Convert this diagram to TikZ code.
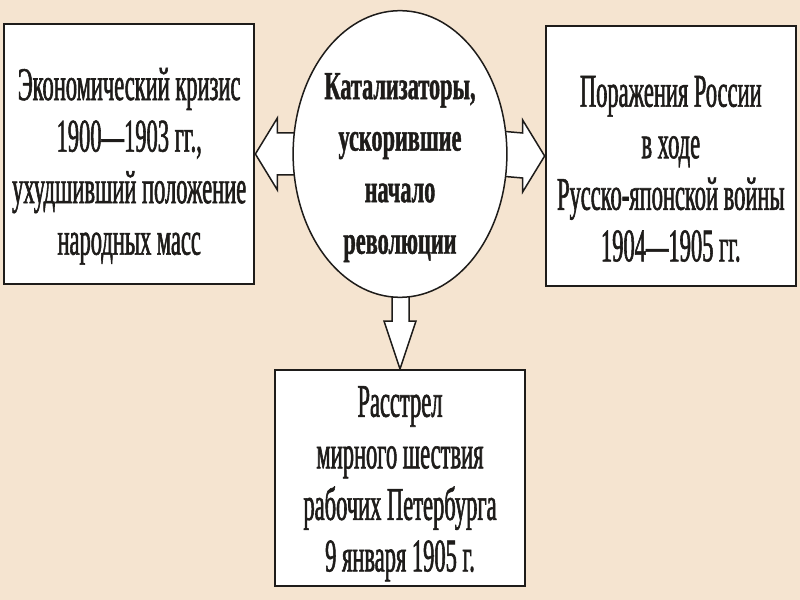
\documentclass[tikz,border=0pt]{standalone}
\usepackage{fontspec}
\setmainfont{Liberation Serif}
\newfontfamily\condserif[FakeStretch=0.48, FakeBold=1.2]{Liberation Serif}
\newfontfamily\condbold[FakeStretch=0.56, FakeBold=1]{Liberation Serif Bold}
\usepackage{tikz}
\usetikzlibrary{positioning, shapes.geometric, backgrounds, calc}
\definecolor{paperbeige}{RGB}{245, 228, 208}
\definecolor{inkdark}{RGB}{30, 28, 26}
\newcommand{\toplift}[1]{\rule{0pt}{#1}}

\begin{document}
\begin{tikzpicture}[x=0.3mm, y=-0.3mm,
  factbox/.style={rectangle, draw=inkdark, fill=white, line width=0.7mm,
    align=center, minimum width=75mm, inner sep=0pt, text=inkdark,
    font=\condserif\fontsize{40pt}{44pt}\selectfont},
  hub/.style={ellipse, draw=inkdark, fill=white, line width=0.45mm,
    align=center, minimum width=63mm, minimum height=86mm, inner xsep=0pt,
    inner ysep=-6mm, text=inkdark, font=\condbold\fontsize{34pt}{44pt}\selectfont},
  blockarrow/.style={draw=inkdark, fill=white, line width=0.45mm, line join=miter}
]
  \useasboundingbox (0,0) rectangle (800,600);
  \node[hub] (cat) at (400,154) {\toplift{16mm}Катализаторы,\\ускорившие\\начало\\революции};
  \node[factbox, minimum height=78mm, left=11.1mm of cat] (econ)
    {\toplift{17mm}Экономический кризис\\1900—1903 гг.,\\ухудшивший положение\\народных масс};
  \node[factbox, minimum height=78mm, right=11.1mm of cat, yshift=-0.6mm] (war)
    {\toplift{17mm}Поражения России\\в ходе\\Русско-японской войны\\1904—1905 гг.};
  \node[factbox, minimum height=64.8mm, below=21.3mm of cat] (shot)
    {\toplift{12.5mm}Расстрел\\мирного шествия\\рабочих Петербурга\\9 января 1905 г.};

  \begin{scope}[on background layer]
    \fill[paperbeige] (0,0) rectangle (800,600);
    % left
    \draw[blockarrow] (econ.east) -- ($(econ.east)+(22,-36)$) -- ($(econ.east)+(22,-21)$)
      -- ($(cat.west)+(8,-21)$) -- ($(cat.west)+(8,21)$)
      -- ($(econ.east)+(22,21)$) -- ($(econ.east)+(22,36)$) -- cycle;
    % right
    \draw[blockarrow] (war.west) -- ($(war.west)+(-22,-36)$) -- ($(war.west)+(-22,-23)$)
      -- ($(cat.east)+(-8,-23)$) -- ($(cat.east)+(-8,22)$)
      -- ($(war.west)+(-22,22)$) -- ($(war.west)+(-22,36)$) -- cycle;
    % down
    \draw[blockarrow] (shot.north) -- ($(shot.north)+(-16,-48)$) -- ($(shot.north)+(-8,-48)$)
      -- ($(cat.south)+(-8,-6)$) -- ($(cat.south)+(9,-6)$)
      -- ($(shot.north)+(9,-48)$) -- ($(shot.north)+(16,-48)$) -- cycle;
  \end{scope}
\end{tikzpicture}
\end{document}
